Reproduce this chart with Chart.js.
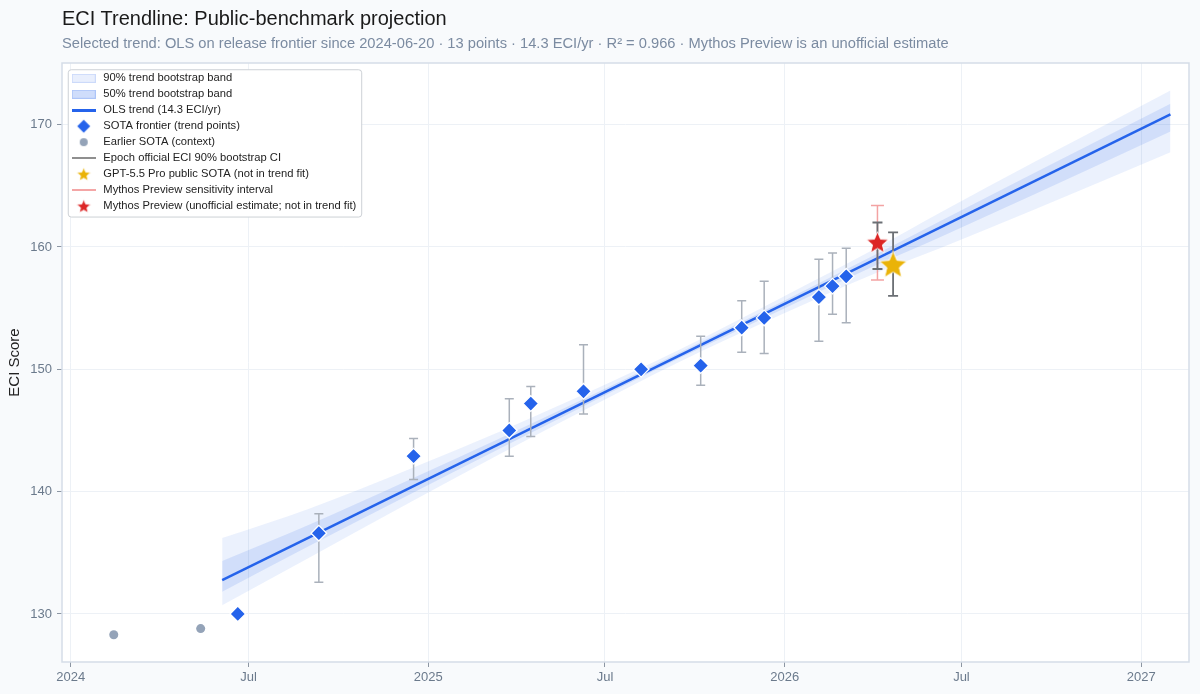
<!DOCTYPE html>
<html>
<head>
<meta charset="utf-8">
<script src="https://cdn.jsdelivr.net/npm/chart.js@4.4.1/dist/chart.umd.min.js"></script>
<style>
  html, body { margin: 0; padding: 0; background: #f8fafc; }
  #wrap { position: relative; width: 1200px; height: 694px; }
  #myChart { position: absolute; left: 0; top: 0; }
  .title { position: absolute; left: 62px; top: 7px; font: 20px "Liberation Sans", Arial, sans-serif; color: #1a1a1a; white-space: nowrap; }
  .subtitle { position: absolute; left: 62px; top: 35px; font: 14.7px "Liberation Sans", Arial, sans-serif; color: #7b8ba1; white-space: nowrap; }
</style>
</head>
<body>
<div id="wrap">
  <canvas id="myChart" width="1200" height="694"></canvas>
  <div class="title">ECI Trendline: Public-benchmark projection</div>
  <div class="subtitle">Selected trend: OLS on release frontier since 2024-06-20 · 13 points · 14.3 ECI/yr · R² = 0.966 · Mythos Preview is an unofficial estimate</div>
</div>
<script>
const FONT = '"Liberation Sans", Arial, sans-serif';

// SOTA frontier (trend points)
const frontierDates = ['2024-06-20', '2024-09-11', '2024-12-17', '2025-03-25', '2025-04-16', '2025-06-09', '2025-08-07',
                       '2025-10-07', '2025-11-18', '2025-12-11', '2026-02-05', '2026-02-19', '2026-03-05'];
const frontierScores = [130.0, 136.6, 142.9, 145.0, 147.2, 148.2, 150.0, 150.3, 153.4, 154.2, 155.9, 156.8, 157.6];
const frontierCiLow  = [null, 132.6, 141.0, 142.9, 144.5, 146.35, null, 148.7, 151.4, 151.3, 152.3, 154.5, 153.8];
const frontierCiHigh = [null, 138.2, 144.35, 147.6, 148.6, 152.0, null, 152.7, 155.6, 157.2, 159.0, 159.5, 159.9];

// earlier SOTA (context)
const earlierDates = ['2024-02-14', '2024-05-13'];
const earlierScores = [128.3, 128.8];

// GPT-5.5 Pro public SOTA
const gptDate = '2026-04-22';
const gptScore = 158.6;
const gptCi = [156.0, 161.2];

// Mythos Preview
const mythosDate = '2026-04-06';
const mythosScore = 160.4;
const mythosCi = [158.2, 162.0];
const mythosSensitivity = [157.3, 163.4];

// OLS trend
const trendDates = ['2024-06-04', '2027-01-31'];
const trendValues = [132.77, 170.84];

// bootstrap bands
const bandDates = ['2024-06-04', '2024-09-01', '2024-12-15', '2025-03-15', '2025-06-01', '2025-09-15',
                   '2026-01-01', '2026-04-01', '2026-06-09', '2026-09-15', '2027-01-31'];
const band90High = [136.2, 138.6, 141.9, 144.9, 147.65, 151.6, 156.0, 159.75, 162.8, 167.0, 172.8];
const band90Low  = [130.7, 134.6, 139.2, 143.05, 146.3, 150.6, 154.6, 157.75, 159.9, 163.1, 167.75];
const band50High = [134.33, 137.3, 141.05, 144.35, 147.27, 151.35, 155.63, 159.26, 162.1, 166.1, 171.7];
const band50Low  = [131.82, 135.55, 139.85, 143.5, 146.66, 150.9, 155.0, 158.38, 160.8, 164.35, 169.45];

// axes
const xTickDates = ['2024-01-01', '2024-07-01', '2025-01-01', '2025-07-01', '2026-01-01', '2026-07-01', '2027-01-01'];
const xTickLabels = ['2024', 'Jul', '2025', 'Jul', '2026', 'Jul', '2027'];
const yTicks = [130, 140, 150, 160, 170];

const legendLabels = ['90% trend bootstrap band', '50% trend bootstrap band', 'OLS trend (14.3 ECI/yr)',
  'SOTA frontier (trend points)', 'Earlier SOTA (context)', 'Epoch official ECI 90% bootstrap CI',
  'GPT-5.5 Pro public SOTA (not in trend fit)', 'Mythos Preview sensitivity interval',
  'Mythos Preview (unofficial estimate; not in trend fit)'];

const toTs = s => Date.parse(s + 'T00:00:00Z');
const pts = (dates, vals) => dates.map((d, i) => ({x: toTs(d), y: vals[i]}));

// small canvases used as point styles
function icon(w, h, draw) {
  const c = document.createElement('canvas');
  c.width = w; c.height = h;
  draw(c.getContext('2d'), w, h);
  return c;
}
function star(ctx, cx, cy, R, r) {
  ctx.beginPath();
  for (let k = 0; k < 10; k++) {
    const a = -Math.PI / 2 + k * Math.PI / 5;
    const rad = k % 2 ? r : R;
    ctx.lineTo(cx + rad * Math.cos(a), cy + rad * Math.sin(a));
  }
  ctx.closePath();
}
function starIcon(R, color) {
  const s = Math.ceil(2 * R + 4);
  return icon(s, s, (ctx) => {
    star(ctx, s / 2, s / 2 + R * 0.1, R, R * 0.45);
    ctx.fillStyle = color; ctx.fill();
    ctx.strokeStyle = 'rgba(255,255,255,0.9)'; ctx.lineWidth = 1; ctx.stroke();
  });
}
const redStar = starIcon(11.5, '#dc2626');
const goldStar = starIcon(14.5, '#eab308');

const legendIcons = [
  icon(24, 9, (c, w, h) => { c.fillStyle = 'rgba(37,99,235,0.10)'; c.fillRect(0, 0, w, h); c.strokeStyle = 'rgba(37,99,235,0.15)'; c.strokeRect(0.5, 0.5, w - 1, h - 1); }),
  icon(24, 9, (c, w, h) => { c.fillStyle = 'rgba(37,99,235,0.22)'; c.fillRect(0, 0, w, h); c.strokeStyle = 'rgba(37,99,235,0.2)'; c.strokeRect(0.5, 0.5, w - 1, h - 1); }),
  icon(24, 3, (c, w, h) => { c.fillStyle = '#2563eb'; c.fillRect(0, 0, w, h); }),
  icon(16, 16, (c) => { c.beginPath(); c.moveTo(8, 1.5); c.lineTo(14.5, 8); c.lineTo(8, 14.5); c.lineTo(1.5, 8); c.closePath(); c.fillStyle = '#2563eb'; c.fill(); }),
  icon(10, 10, (c) => { c.beginPath(); c.arc(5, 5, 4, 0, Math.PI * 2); c.fillStyle = '#94a3b8'; c.fill(); }),
  icon(24, 2, (c, w, h) => { c.fillStyle = '#8f8f8f'; c.fillRect(0, 0, w, h); }),
  starIcon(7.5, '#eab308'),
  icon(24, 2, (c, w, h) => { c.fillStyle = '#f4a6a6'; c.fillRect(0, 0, w, h); }),
  starIcon(7.5, '#dc2626')
];

// error bars drawn right after the trend line, under the markers
function drawBar(ctx, xs, ys, x, lo, hi, color, width, cap) {
  const px = xs.getPixelForValue(x);
  const p1 = ys.getPixelForValue(lo), p2 = ys.getPixelForValue(hi);
  ctx.strokeStyle = color;
  ctx.lineWidth = width;
  ctx.beginPath();
  ctx.moveTo(px, p1); ctx.lineTo(px, p2);
  ctx.moveTo(px - cap, p1); ctx.lineTo(px + cap, p1);
  ctx.moveTo(px - cap, p2); ctx.lineTo(px + cap, p2);
  ctx.stroke();
}
const errorBars = {
  id: 'errorBars',
  afterDatasetDraw(chart, args) {
    if (args.index !== 4) return;
    const {ctx, scales: {x, y}} = chart;
    ctx.save();
    frontierDates.forEach((d, i) => {
      if (frontierCiLow[i] == null) return;
      drawBar(ctx, x, y, toTs(d), frontierCiLow[i], frontierCiHigh[i], '#aab1bb', 1.5, 4.5);
    });
    drawBar(ctx, x, y, toTs(mythosDate), mythosSensitivity[0], mythosSensitivity[1], '#f3a3a3', 1.5, 6.5);
    drawBar(ctx, x, y, toTs(mythosDate), mythosCi[0], mythosCi[1], '#6b6f74', 1.8, 5);
    drawBar(ctx, x, y, toTs(gptDate), gptCi[0], gptCi[1], '#6b6f74', 1.8, 5);
    ctx.restore();
  }
};

// white plot area, frame, and a boxed legend on top
const plotFrame = {
  id: 'plotFrame',
  beforeDraw(chart) {
    const {ctx, chartArea: a} = chart;
    ctx.save();
    ctx.fillStyle = '#ffffff';
    ctx.fillRect(a.left, a.top, a.width, a.height);
    ctx.restore();
  },
  afterLayout(chart) {
    const lg = chart.legend, a = chart.chartArea;
    lg.left = a.left + 3; lg.top = a.top + 5;
    lg.right = lg.left + lg.width; lg.bottom = lg.top + lg.height;
  },
  afterDraw(chart) {
    const {ctx, chartArea: a} = chart;
    ctx.save();
    ctx.strokeStyle = '#d5dde7';
    ctx.lineWidth = 1.5;
    ctx.strokeRect(a.left, a.top, a.width, a.height);
    const hb = chart.legend.legendHitBoxes;
    const x0 = hb[0].left - 2, y0 = hb[0].top - 3.5;
    const x1 = Math.max(...hb.map(h => h.left + h.width)) + 5;
    const y1 = hb[hb.length - 1].top + hb[hb.length - 1].height + 5;
    ctx.beginPath();
    ctx.roundRect(x0 + 0.5, y0 + 0.5, x1 - x0, y1 - y0, 3);
    ctx.fillStyle = '#ffffff';
    ctx.fill();
    ctx.strokeStyle = '#cdd1d6';
    ctx.lineWidth = 1;
    ctx.stroke();
    ctx.restore();
    chart.legend.draw();
  }
};

const myChartObject = document.getElementById('myChart');

const cfg = {
  type: 'line',
  data: {
    datasets: [{
      label: 'Mythos Preview (unofficial estimate; not in trend fit)',
      data: pts([mythosDate], [mythosScore]),
      showLine: false, pointStyle: redStar, pointRadius: 6
    }, {
      label: 'GPT-5.5 Pro public SOTA (not in trend fit)',
      data: pts([gptDate], [gptScore]),
      showLine: false, pointStyle: goldStar, pointRadius: 6
    }, {
      label: 'SOTA frontier (trend points)',
      data: pts(frontierDates, frontierScores),
      showLine: false, pointStyle: 'rectRot', pointRadius: 7.8,
      pointBackgroundColor: '#2563eb', pointBorderColor: '#ffffff', pointBorderWidth: 1.3
    }, {
      label: 'Earlier SOTA (context)',
      data: pts(earlierDates, earlierScores),
      showLine: false, pointStyle: 'circle', pointRadius: 4.5,
      pointBackgroundColor: '#94a3b8', pointBorderWidth: 0
    }, {
      label: 'OLS trend (14.3 ECI/yr)',
      data: pts(trendDates, trendValues),
      borderColor: '#2563eb', borderWidth: 2.5, pointRadius: 0
    }, {
      label: '50% high',
      data: pts(bandDates, band50High),
      borderColor: 'rgba(0,0,0,0)', borderWidth: 0, pointRadius: 0,
      cubicInterpolationMode: 'monotone',
      fill: '+1', backgroundColor: 'rgba(37,99,235,0.13)'
    }, {
      label: '50% low',
      data: pts(bandDates, band50Low),
      borderColor: 'rgba(0,0,0,0)', borderWidth: 0, pointRadius: 0,
      cubicInterpolationMode: 'monotone'
    }, {
      label: '90% high',
      data: pts(bandDates, band90High),
      borderColor: 'rgba(0,0,0,0)', borderWidth: 0, pointRadius: 0,
      cubicInterpolationMode: 'monotone',
      fill: '+1', backgroundColor: 'rgba(37,99,235,0.09)'
    }, {
      label: '90% low',
      data: pts(bandDates, band90Low),
      borderColor: 'rgba(0,0,0,0)', borderWidth: 0, pointRadius: 0,
      cubicInterpolationMode: 'monotone'
    }]
  },
  options: {
    responsive: false,
    animation: false,
    layout: { padding: { top: 63, right: 11, left: 0, bottom: 0 } },
    plugins: {
      title: { display: false },
      tooltip: { enabled: false },
      legend: {
        position: 'chartArea',
        align: 'start',
        labels: {
          usePointStyle: true,
          pointStyleWidth: 28,
          boxHeight: 11,
          padding: 4.75,
          color: '#222222',
          font: { family: FONT, size: 11.2 },
          generateLabels: () => legendLabels.map((t, i) => ({
            text: t, pointStyle: legendIcons[i], fillStyle: 'rgba(0,0,0,0)',
            strokeStyle: 'rgba(0,0,0,0)', lineWidth: 0, hidden: false, fontColor: '#222222'
          }))
        }
      }
    },
    scales: {
      x: {
        type: 'linear',
        min: toTs('2023-12-23'),
        max: toTs('2027-02-19'),
        afterBuildTicks: (s) => { s.ticks = xTickDates.map(d => ({value: toTs(d)})); },
        afterFit: (s) => { s.height = 32; },
        grid: { color: '#edf1f6', tickColor: '#8c96a3', tickLength: 5 },
        border: { display: false },
        ticks: {
          autoSkip: false, maxRotation: 0, padding: 3,
          color: '#6b7a8c', font: { family: FONT, size: 13 },
          callback: (v, i) => xTickLabels[i]
        }
      },
      y: {
        type: 'linear',
        min: 126.07,
        max: 175.04,
        afterBuildTicks: (s) => { s.ticks = yTicks.map(v => ({value: v})); },
        afterFit: (s) => { s.width = 62; },
        grid: { color: '#edf1f6', tickColor: '#8c96a3', tickLength: 5 },
        border: { display: false },
        ticks: { color: '#6b7a8c', font: { family: FONT, size: 13 }, padding: 5 },
        title: { display: true, text: 'ECI Score', color: '#222222', font: { family: FONT, size: 15 }, padding: { top: 6 } }
      }
    }
  },
  plugins: [errorBars, plotFrame]
};

let chart = new Chart(myChartObject, cfg);
</script>
</body>
</html>
